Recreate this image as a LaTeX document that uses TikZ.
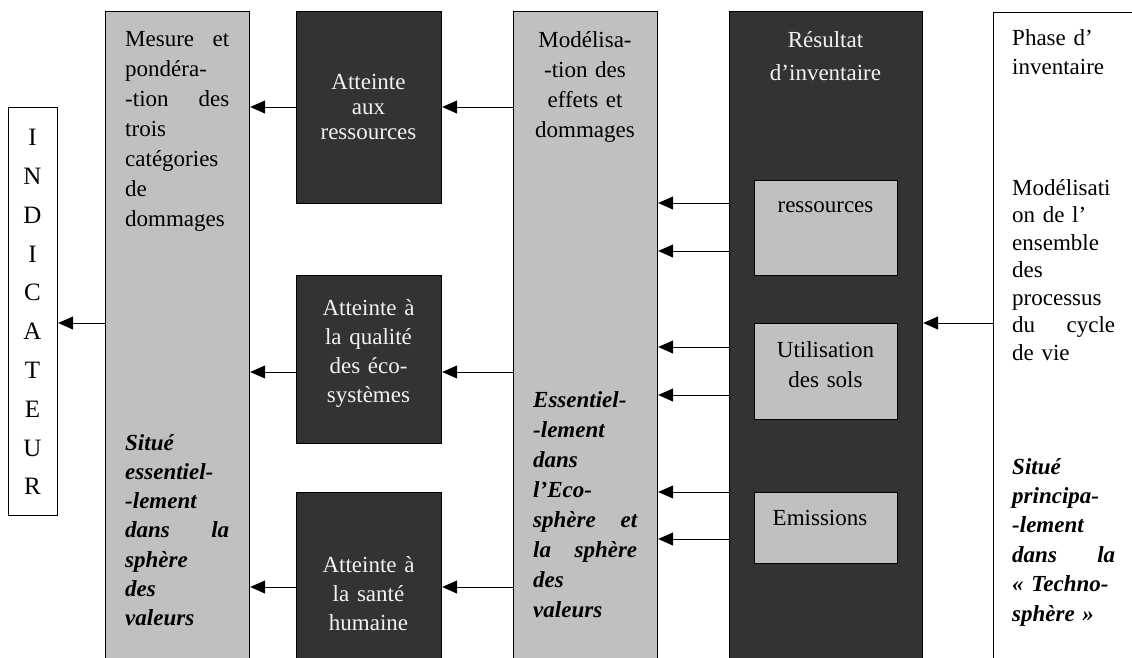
\documentclass[tikz,border=0pt]{standalone}
\usepackage{fontspec}
\setmainfont{Liberation Serif}
\usetikzlibrary{arrows.meta}
\definecolor{darkfill}{HTML}{333333}
\definecolor{lightfill}{HTML}{C0C0C0}
\definecolor{lighttext}{HTML}{F2F2F2}
\tikzset{
  box/.style={draw=black, line width=1.2pt, inner sep=0pt, anchor=north west},
  darkbox/.style={box, fill=darkfill},
  lightbox/.style={box, fill=lightfill},
  whitebox/.style={box, fill=white},
  txt/.style={inner sep=0pt, text width=#1, align=left},
  ctxt/.style={inner sep=0pt, text width=#1, align=center},
  arr/.style={-{Triangle[length=15pt,width=13pt]}, line width=1pt},
}
\newcommand\fsz[1]{\fontsize{23}{#1}\selectfont}
\begin{document}
\begin{tikzpicture}[x=1pt,y=-1pt]
\useasboundingbox (0,0) rectangle (1132,657);
\clip (0,0) rectangle (1132,657);
% boxes
\node[whitebox, minimum width=49pt, minimum height=408pt] (ind) at (8,107) {};
\node[lightbox, minimum width=144pt, minimum height=700pt] (mesure) at (105,11) {};
\node[darkbox, minimum width=145pt, minimum height=192pt] (att1) at (296,11) {};
\node[darkbox, minimum width=145pt, minimum height=168pt] (att2) at (296,275) {};
\node[darkbox, minimum width=145pt, minimum height=220pt] (att3) at (296,492) {};
\node[lightbox, minimum width=144pt, minimum height=700pt] (mod) at (513,11) {};
\node[darkbox, minimum width=193pt, minimum height=700pt] (res) at (729,11) {};
\node[lightbox, minimum width=143pt, minimum height=95pt] (ress) at (754,180) {};
\node[lightbox, minimum width=143pt, minimum height=96pt] (util) at (754,323) {};
\node[lightbox, minimum width=143pt, minimum height=71pt] (emis) at (754,492) {};
\node[whitebox, minimum width=200pt, minimum height=700pt] (phase) at (993,12) {};
% texts
\node[ctxt=40pt, font={\fontsize{25}{38.8}\selectfont}, anchor=center] (tind) at (32.5,312.5)
  {\strut I\\N\\D\\I\\C\\A\\T\\E\\U\\R\strut};
\node[txt=104pt, font=\fsz{30}, anchor=north west] (tmes1) at (125,25.7)
  {\strut Mesure\hfill et\\pondéra-\\-tion\hfill des\\trois\\catégories\\de\\dommages};
\node[txt=104pt, font=\fsz{29.2}\bfseries\itshape, anchor=north west] (tmes2) at (125,429.6)
  {\strut Situé\\essentiel-\\-lement\\dans\hfill la\\sphère\\des\\valeurs};
\node[ctxt=140pt, font=\fsz{25}, text=lighttext, anchor=center] (tatt1) at (368.5,109)
  {\strut Atteinte\\aux\\ressources\strut};
\node[ctxt=140pt, font=\fsz{29}, text=lighttext, anchor=center] (tatt2) at (368.5,353)
  {\strut Atteinte à\\la qualité\\des éco-\\systèmes\strut};
\node[ctxt=140pt, font=\fsz{29}, text=lighttext, anchor=center] (tatt3) at (368.5,596)
  {\strut Atteinte à\\la santé\\humaine\strut};
\node[ctxt=140pt, font=\fsz{30}, anchor=north] (tmod1) at (585,26)
  {\strut Modélisa-\\-tion des\\effets et\\dommages};
\node[txt=104pt, font=\fsz{30}\bfseries\itshape, anchor=north west] (tmod2) at (533,386)
  {\strut Essentiel-\\-lement\\dans\\l’Eco-\\sphère\hfill et\\la\hfill sphère\\des\\valeurs};
\node[ctxt=190pt, font=\fsz{33}, text=lighttext, anchor=north] (tres) at (825.5,23.9)
  {\strut Résultat\\d’inventaire};
\node[inner sep=0pt, font=\fsz{29}, anchor=base] (tress) at (825.5,212) {ressources};
\node[ctxt=140pt, font=\fsz{30}, anchor=north] (tutil) at (825.5,336)
  {\strut Utilisation\\des sols};
\node[inner sep=0pt, font=\fsz{29}, anchor=base] (temis) at (820,525) {Emissions};
\node[txt=103pt, font=\fsz{29}, anchor=north west] (tph1) at (1012,24.7)
  {\strut Phase d’\\inventaire};
\node[txt=103pt, font=\fsz{27.5}, anchor=north west] (tph2) at (1012,175.7)
  {\strut Modélisati\\on de l’\\ensemble\\des\\processus\\du\hfill cycle\\de vie};
\node[txt=103pt, font=\fsz{29.4}\bfseries\itshape, anchor=north west] (tph3) at (1012,453.4)
  {\strut Situé\\principa-\\-lement\\dans\hfill la\\« Techno-\\sphère »};
% arrows
\draw[arr] (mesure.west |- 0,323) -- (ind.east |- 0,323);
\draw[arr] (att1.west |- 0,107) -- (mesure.east |- 0,107);
\draw[arr] (att2.west |- 0,372) -- (mesure.east |- 0,372);
\draw[arr] (att3.west |- 0,587) -- (mesure.east |- 0,587);
\draw[arr] (mod.west |- 0,107) -- (att1.east |- 0,107);
\draw[arr] (mod.west |- 0,372) -- (att2.east |- 0,372);
\draw[arr] (mod.west |- 0,587) -- (att3.east |- 0,587);
\foreach \yy in {203,251,347,395,492,539}
  \draw[arr] (res.west |- 0,\yy) -- (mod.east |- 0,\yy);
\draw[arr] (phase.west |- 0,323) -- (res.east |- 0,323);
\end{tikzpicture}
\end{document}
